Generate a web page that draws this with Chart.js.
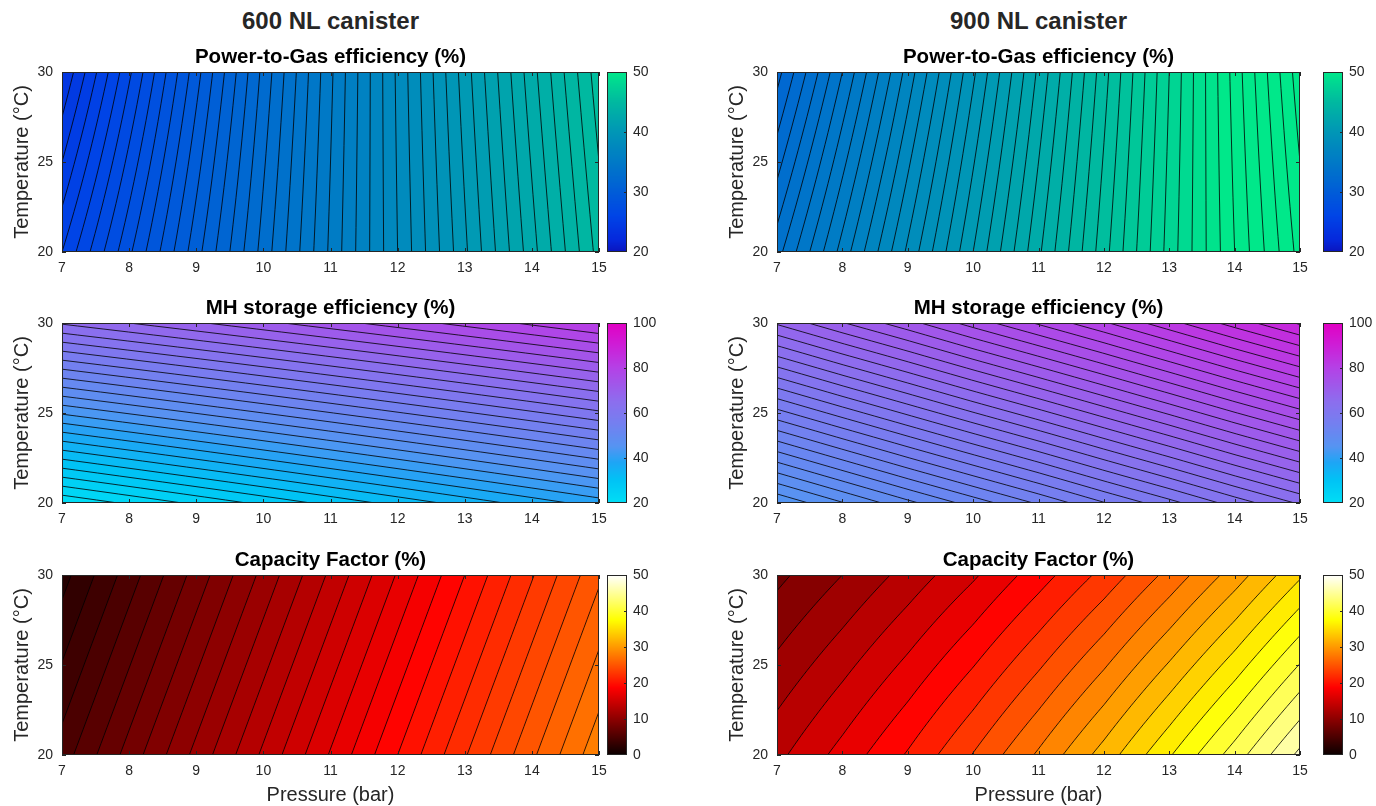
<!DOCTYPE html>
<html>
<head>
<meta charset="utf-8">
<script src="https://cdn.jsdelivr.net/npm/chart.js@4.4.1/dist/chart.umd.min.js"></script>
<style>
  body { margin: 0; background: #fff; width: 1376px; height: 806px; position: relative; overflow: hidden;
         font-family: "Liberation Sans", Arial, sans-serif; }
  canvas { position: absolute; }
  .sup { position: absolute; top: 7px; font-weight: bold; font-size: 24px; line-height: 28px;
         color: #262626; text-align: center; }
</style>
</head>
<body>
<div class="sup" style="left:62px;width:537px">600 NL canister</div>
<div class="sup" style="left:777px;width:523px">900 NL canister</div>
<script>
// grid where values were read (bar / °C)
const pressure = [7, 8, 9, 10, 11, 12, 13, 14, 15];
const temperature = [20, 30];

// rows: T = 20, T = 30
const ptg600 = [
  [26.0, 28.4, 30.8, 33.2, 35.6, 38.0, 40.4, 42.8, 45.2],
  [24.0, 26.9, 29.8, 32.65, 35.4, 38.1, 40.75, 43.3, 45.8]
];
const ptg900 = [
  [33.8, 36.2, 38.6, 41.0, 43.4, 45.8, 48.2, 50.5, 52.7],
  [31.8, 34.5, 37.2, 39.9, 42.6, 45.3, 48.0, 50.7, 53.3]
];
const mh600 = [
  [21.0, 23.4, 25.8, 28.2, 30.6, 33.0, 35.4, 37.8, 40.2],
  [67.0, 69.0, 71.0, 73.0, 75.0, 77.0, 79.0, 81.0, 83.0]
];
const mh900 = [
  [45.0, 47.5, 50.0, 52.4, 54.8, 57.3, 59.7, 62.2, 64.6],
  [68.8, 71.3, 73.7, 76.2, 78.6, 81.0, 83.5, 86.0, 88.4]
];
const cf600 = [
  [5.5, 8.4, 11.3, 14.2, 17.1, 20.0, 22.9, 25.8, 28.7],
  [2.6, 5.5, 8.4, 11.3, 14.2, 17.1, 20.0, 22.9, 25.8]
];
const cf900 = [
  [14.7, 17.8, 21.1, 24.8, 28.8, 33.1, 37.8, 42.7, 48.0],
  [9.0, 11.4, 14.0, 16.8, 20.0, 23.4, 27.2, 31.3, 35.8]
];
// spacing between contour levels in each panel
const levelSteps600 = [0.5, 2.3, 1.0];
const levelSteps900 = [0.5, 1.4, 1.9];

const xTicks = [7, 8, 9, 10, 11, 12, 13, 14, 15];
const yTicks = [20, 25, 30];
const ptgTicks = [20, 30, 40, 50];
const mhTicks = [20, 40, 60, 80, 100];
const cfTicks = [0, 10, 20, 30, 40, 50];

// colour maps (value, rgb)
const ptgStops = [[20, [10, 20, 190]], [22, [5, 40, 220]], [26, [0, 68, 230]], [33, [0, 110, 205]],
                  [40, [0, 150, 182]], [45, [0, 185, 160]], [50, [0, 232, 138]]];
const mhStops = [[20, [0, 222, 245]], [30, [0, 195, 245]], [38, [30, 165, 245]], [45, [85, 148, 242]],
                 [55, [115, 128, 240]], [65, [140, 110, 238]], [80, [180, 65, 230]], [90, [205, 30, 215]],
                 [100, [225, 0, 195]]];
const hotStops = [[0, [10, 0, 0]], [18.75, [255, 0, 0]], [37.5, [255, 255, 0]], [50, [255, 255, 255]]];

Chart.defaults.font.family = '"Liberation Sans", Arial, sans-serif';
Chart.defaults.color = '#262626';

function makeCmap(stops) {
  return v => {
    if (v <= stops[0][0]) return stops[0][1];
    for (let k = 1; k < stops.length; k++) {
      if (v <= stops[k][0]) {
        const [v0, c0] = stops[k - 1], [v1, c1] = stops[k];
        const f = (v - v0) / (v1 - v0);
        return c0.map((c, i) => Math.round(c + (c1[i] - c) * f));
      }
    }
    return stops[stops.length - 1][1];
  };
}

function fieldAt(z, p, t) {
  let i = 0;
  while (i < pressure.length - 2 && p > pressure[i + 1]) i++;
  let j = 0;
  while (j < temperature.length - 2 && t > temperature[j + 1]) j++;
  const fp = (p - pressure[i]) / (pressure[i + 1] - pressure[i]);
  const ft = (t - temperature[j]) / (temperature[j + 1] - temperature[j]);
  const a = z[j][i] + (z[j][i + 1] - z[j][i]) * fp;
  const b = z[j + 1][i] + (z[j + 1][i + 1] - z[j + 1][i]) * fp;
  return a + (b - a) * ft;
}

function drawBox(ctx, a, xs, ys, xt, yt, len, sides) {
  ctx.save();
  ctx.strokeStyle = '#262626';
  ctx.lineWidth = 1;
  ctx.beginPath();
  if (xs) xt.forEach(v => {
    const px = Math.round(xs.getPixelForValue(v)) + 0.5;
    ctx.moveTo(px, a.bottom); ctx.lineTo(px, a.bottom - len);
    ctx.moveTo(px, a.top); ctx.lineTo(px, a.top + len);
  });
  yt.forEach(v => {
    const py = Math.round(ys.getPixelForValue(v)) + 0.5;
    if (sides.left) { ctx.moveTo(a.left, py); ctx.lineTo(a.left + len, py); }
    ctx.moveTo(a.right, py); ctx.lineTo(a.right - len, py);
  });
  ctx.stroke();
  ctx.strokeRect(Math.round(a.left) + 0.5, Math.round(a.top) + 0.5,
                 Math.round(a.right - a.left) - 1, Math.round(a.bottom - a.top) - 1);
  ctx.restore();
}

// filled contours + contour lines, drawn through the chart scales
const contourField = {
  id: 'contourField',
  beforeDatasetsDraw(chart, args, opts) {
    const {ctx, chartArea: a, scales: {x, y}} = chart;
    const w = Math.round(a.right - a.left), h = Math.round(a.bottom - a.top);
    const cmap = makeCmap(opts.stops);
    const off = document.createElement('canvas');
    off.width = w; off.height = h;
    const octx = off.getContext('2d');
    const img = octx.createImageData(w, h);
    for (let j = 0; j < h; j++) {
      const t = y.getValueForPixel(a.top + j + 0.5);
      for (let i = 0; i < w; i++) {
        const p = x.getValueForPixel(a.left + i + 0.5);
        const z = fieldAt(opts.z, p, t);
        const c = cmap(Math.floor(z / opts.step) * opts.step);
        const k = (j * w + i) * 4;
        img.data[k] = c[0]; img.data[k + 1] = c[1]; img.data[k + 2] = c[2]; img.data[k + 3] = 255;
      }
    }
    octx.putImageData(img, 0, 0);
    ctx.drawImage(off, a.left, a.top);

    // contour lines (marching squares on a fine sampling)
    const s = 3;
    const nx = Math.ceil(w / s), ny = Math.ceil(h / s);
    const gx = [], gy = [], Z = [];
    for (let i = 0; i <= nx; i++) gx.push(a.left + Math.min(i * s, w));
    for (let j = 0; j <= ny; j++) gy.push(a.top + Math.min(j * s, h));
    let zmin = Infinity, zmax = -Infinity;
    for (let j = 0; j <= ny; j++) {
      const row = [];
      const t = y.getValueForPixel(gy[j]);
      for (let i = 0; i <= nx; i++) {
        const v = fieldAt(opts.z, x.getValueForPixel(gx[i]), t);
        row.push(v);
        zmin = Math.min(zmin, v); zmax = Math.max(zmax, v);
      }
      Z.push(row);
    }
    ctx.save();
    ctx.beginPath();
    ctx.rect(a.left, a.top, w, h);
    ctx.clip();
    ctx.strokeStyle = '#000';
    ctx.lineWidth = 0.8;
    ctx.beginPath();
    for (let L = Math.ceil(zmin / opts.step) * opts.step; L <= zmax; L += opts.step) {
      for (let j = 0; j < ny; j++) {
        for (let i = 0; i < nx; i++) {
          const c = [[gx[i], gy[j], Z[j][i]], [gx[i + 1], gy[j], Z[j][i + 1]],
                     [gx[i + 1], gy[j + 1], Z[j + 1][i + 1]], [gx[i], gy[j + 1], Z[j + 1][i]]];
          const pts = [];
          for (let e = 0; e < 4; e++) {
            const p0 = c[e], p1 = c[(e + 1) % 4];
            if ((p0[2] < L) !== (p1[2] < L)) {
              const f = (L - p0[2]) / (p1[2] - p0[2]);
              pts.push([p0[0] + (p1[0] - p0[0]) * f, p0[1] + (p1[1] - p0[1]) * f]);
            }
          }
          for (let q = 0; q + 1 < pts.length; q += 2) {
            ctx.moveTo(pts[q][0], pts[q][1]);
            ctx.lineTo(pts[q + 1][0], pts[q + 1][1]);
          }
        }
      }
    }
    ctx.stroke();
    ctx.restore();
  },
  afterDatasetsDraw(chart) {
    const {ctx, chartArea: a, scales: {x, y}} = chart;
    drawBox(ctx, a, x, y, xTicks, yTicks, 4, {left: true});
  }
};

const colorBar = {
  id: 'colorBar',
  beforeDatasetsDraw(chart, args, opts) {
    const {ctx, chartArea: a, scales: {y}} = chart;
    const cmap = makeCmap(opts.stops);
    for (let j = Math.round(a.top); j < Math.round(a.bottom); j++) {
      const c = cmap(y.getValueForPixel(j + 0.5));
      ctx.fillStyle = `rgb(${c[0]},${c[1]},${c[2]})`;
      ctx.fillRect(a.left, j, a.right - a.left, 1);
    }
  },
  afterDatasetsDraw(chart, args, opts) {
    const {ctx, chartArea: a, scales: {y}} = chart;
    drawBox(ctx, a, null, y, [], opts.ticks.slice(1, -1), 3, {left: false});
  }
};

function addCanvas(left, top, width, height) {
  const c = document.createElement('canvas');
  c.width = width; c.height = height;
  c.style.left = left + 'px'; c.style.top = top + 'px';
  c.style.width = width + 'px'; c.style.height = height + 'px';
  document.body.appendChild(c);
  return c;
}

function makePanel(left, rowTop, plotW, title, z, step, stops, lastRow) {
  const xH = lastRow ? 52 : 30;
  const canvas = addCanvas(left, rowTop - 30, plotW + 54 + 16, 30 + 180 + xH);
  return new Chart(canvas, {
    type: 'scatter',
    data: { datasets: [] },
    plugins: [contourField],
    options: {
      responsive: false,
      animation: false,
      layout: { padding: { left: 0, right: 16, top: 0, bottom: 0 } },
      plugins: {
        legend: { display: false },
        tooltip: { enabled: false },
        title: { display: true, text: title, color: '#000', fullSize: false,
                 font: { size: 20.5, weight: 'bold', lineHeight: '24px' }, padding: { top: 3, bottom: 3 } },
        contourField: { z: z, step: step, stops: stops }
      },
      scales: {
        x: {
          type: 'linear', min: 7, max: 15,
          afterBuildTicks: s => { s.ticks = xTicks.map(v => ({ value: v })); },
          afterFit: s => { s.height = xH; },
          grid: { display: false, drawTicks: false },
          border: { display: false },
          ticks: { font: { size: 14 }, padding: 8, color: '#262626', maxRotation: 0 },
          title: { display: lastRow, text: 'Pressure (bar)', font: { size: 20, lineHeight: '24px' },
                   color: '#262626', padding: { top: 0, bottom: 0 } }
        },
        y: {
          type: 'linear', min: 20, max: 30,
          afterBuildTicks: s => { s.ticks = yTicks.map(v => ({ value: v })); },
          afterFit: s => { s.width = 54; },
          grid: { display: false, drawTicks: false },
          border: { display: false },
          ticks: { font: { size: 14 }, padding: 9, color: '#262626' },
          title: { display: true, text: 'Temperature (°C)', font: { size: 20, lineHeight: '24px' },
                   color: '#262626', padding: { top: 2, bottom: 0 } }
        }
      }
    }
  });
}

function makeBar(left, rowTop, min, max, ticks, stops) {
  const canvas = addCanvas(left, rowTop - 16, 60, 212);
  return new Chart(canvas, {
    type: 'scatter',
    data: { datasets: [] },
    plugins: [colorBar],
    options: {
      responsive: false,
      animation: false,
      layout: { padding: { left: 0, right: 0, top: 16, bottom: 16 } },
      plugins: {
        legend: { display: false },
        tooltip: { enabled: false },
        colorBar: { stops: stops, ticks: ticks }
      },
      scales: {
        x: { type: 'linear', display: false, min: 0, max: 1 },
        y: {
          type: 'linear', position: 'right', min: min, max: max,
          afterBuildTicks: s => { s.ticks = ticks.map(v => ({ value: v })); },
          afterFit: s => { s.width = 40; },
          grid: { display: false, drawTicks: false },
          border: { display: false },
          ticks: { font: { size: 14 }, padding: 6, color: '#262626' }
        }
      }
    }
  });
}

const rowTops = [72, 323, 575];
const titles = ['Power-to-Gas efficiency (%)', 'MH storage efficiency (%)', 'Capacity Factor (%)'];
const leftData = [ptg600, mh600, cf600];
const rightData = [ptg900, mh900, cf900];
const stopsList = [ptgStops, mhStops, hotStops];
const barRanges = [[20, 50, ptgTicks], [20, 100, mhTicks], [0, 50, cfTicks]];

for (let r = 0; r < 3; r++) {
  const last = r === 2;
  makePanel(8, rowTops[r], 537, titles[r], leftData[r], levelSteps600[r], stopsList[r], last);
  makePanel(723, rowTops[r], 523, titles[r], rightData[r], levelSteps900[r], stopsList[r], last);
  const [mn, mx, tk] = barRanges[r];
  makeBar(607, rowTops[r], mn, mx, tk, stopsList[r]);
  makeBar(1323, rowTops[r], mn, mx, tk, stopsList[r]);
}
</script>
</body>
</html>
